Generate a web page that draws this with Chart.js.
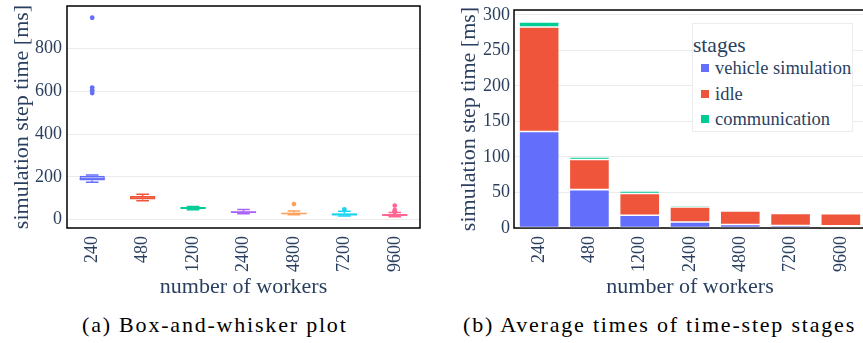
<!DOCTYPE html>
<html><head><meta charset="utf-8">
<script src="https://cdn.jsdelivr.net/npm/chart.js@4.4.0/dist/chart.umd.min.js"></script>
<style>
html,body{margin:0;padding:0;background:#fff;overflow:hidden;width:863px;height:343px;}
#wrap{position:relative;width:863px;height:343px;overflow:hidden;}
#c1{position:absolute;left:0;top:0;}
#c2{position:absolute;left:430px;top:0;}
.cap{position:absolute;top:312px;font-family:"Liberation Serif",serif;font-size:22px;color:#000;white-space:nowrap;letter-spacing:1.8px;line-height:26px;}
#legend{position:absolute;left:692px;top:23px;width:161px;height:109px;border:1px solid #ececec;background:#fff;font-family:"Liberation Serif",serif;color:#2a3f5f;box-sizing:border-box;}
#legend .t{position:absolute;left:0;top:8px;font-size:21.5px;line-height:26px;}
#legend .e{position:absolute;left:22px;font-size:18.5px;line-height:22px;white-space:nowrap;}
#legend .s{position:absolute;left:8px;width:8px;height:8px;}
</style></head>
<body><div id="wrap">
<canvas id="c1" width="430" height="300"></canvas>
<canvas id="c2" width="436" height="300"></canvas>
<div class="cap" id="capA" style="left:82px">(a) Box-and-whisker plot</div>
<div class="cap" id="capB" style="left:463px">(b) Average times of time-step stages</div>
<div id="legend"></div>
</div>
<script>
// ---------- data ----------
const workers = ['240','480','1200','2400','4800','7200','9600'];
const boxColors = ['#636efa','#EF553B','#00cc96','#ab63fa','#FFA15A','#19d3f3','#FF6692'];
const whiskerLow  = [174, 88, 46, 27, 22, 16, 13];
const q1          = [182, 93, 49, 30, 25, 19, 16];
const median      = [190, 100, 54, 34, 28, 23, 20];
const q3          = [205, 110, 58, 38, 32, 29, 26];
const whiskerHigh = [208, 118, 61, 47, 40, 38, 33];
const outliers = [[945, 618, 605, 592], [], [], [], [72], [47], [65, 44, 39, 35]];
const yTicksA = [0, 200, 400, 600, 800];

const stageNames = ['vehicle simulation', 'idle', 'communication'];
const stageColors = ['#636efa', '#EF553B', '#00cc96'];
const vehicleSim    = [136, 54, 18, 8.5, 5, 3.5, 3];
const idle          = [147, 42.5, 30.5, 21, 19, 17, 17];
const communication = [7, 3.5, 3.5, 2.5, 2, 1.5, 1.2];
const yTicksB = [0, 50, 100, 150, 200, 250, 300];

// ---------- styles ----------
const TXT = '#2a3f5f';
const FONT = '"Liberation Serif", "Times New Roman", serif';
const GRID = '#ebebeb';

function alpha(hex, a) {
  const n = parseInt(hex.slice(1), 16);
  return `rgba(${(n>>16)&255},${(n>>8)&255},${n&255},${a})`;
}
function noPad(s) { s.paddingTop = 0; s.paddingBottom = 0; s.paddingLeft = 0; s.paddingRight = 0; }

const framePlugin = {
  id: 'frame',
  beforeDatasetsDraw(chart) {
    const {ctx, chartArea: a} = chart;
    ctx.save();
    ctx.strokeStyle = '#000';
    ctx.lineWidth = 1.5;
    ctx.strokeRect(a.left, a.top, a.right - a.left, a.bottom - a.top);
    ctx.restore();
  }
};

const whiskerPlugin = {
  id: 'whiskers',
  beforeDatasetsDraw(chart) {
    const {ctx} = chart;
    const xs = chart.scales.x, ys = chart.scales.y;
    const meta = chart.getDatasetMeta(0);
    ctx.save();
    ctx.lineWidth = 1.5;
    workers.forEach((w, i) => {
      const x = xs.getPixelForValue(i);
      const bw = meta.data[i] ? meta.data[i].width : 24;
      const cap = bw * 0.5;
      ctx.strokeStyle = boxColors[i];
      ctx.beginPath();
      ctx.moveTo(x, ys.getPixelForValue(whiskerLow[i]));
      ctx.lineTo(x, ys.getPixelForValue(q1[i]));
      ctx.moveTo(x, ys.getPixelForValue(q3[i]));
      ctx.lineTo(x, ys.getPixelForValue(whiskerHigh[i]));
      ctx.moveTo(x - cap/2, ys.getPixelForValue(whiskerLow[i]));
      ctx.lineTo(x + cap/2, ys.getPixelForValue(whiskerLow[i]));
      ctx.moveTo(x - cap/2, ys.getPixelForValue(whiskerHigh[i]));
      ctx.lineTo(x + cap/2, ys.getPixelForValue(whiskerHigh[i]));
      ctx.stroke();
    });
    ctx.restore();
  },
  afterDatasetsDraw(chart) {
    const {ctx} = chart;
    const xs = chart.scales.x, ys = chart.scales.y;
    const meta = chart.getDatasetMeta(0);
    ctx.save();
    ctx.lineWidth = 1.5;
    workers.forEach((w, i) => {
      const x = xs.getPixelForValue(i);
      const bw = meta.data[i] ? meta.data[i].width : 24;
      const y = ys.getPixelForValue(median[i]);
      ctx.strokeStyle = boxColors[i];
      ctx.beginPath();
      ctx.moveTo(x - bw/2, y);
      ctx.lineTo(x + bw/2, y);
      ctx.stroke();
    });
    ctx.restore();
  }
};

const outlierPts = [], outlierCols = [];
outliers.forEach((arr, i) => arr.forEach(v => { outlierPts.push({x: workers[i], y: v}); outlierCols.push(boxColors[i]); }));

function xAxis() {
  return {
    offset: true,
    grid: {display: false, drawTicks: false},
    border: {display: false},
    ticks: {color: TXT, font: {family: FONT, size: 18}, minRotation: 90, maxRotation: 90, padding: 8, autoSkip: false},
    title: {display: true, text: 'number of workers', color: TXT, font: {family: FONT, size: 22}, padding: {top: 0, bottom: 0}},
    afterFit(s) { s.height = 72; noPad(s); }
  };
}

// ---------- chart (a) ----------
new Chart(document.getElementById('c1'), {
  type: 'bar',
  data: {
    labels: workers,
    datasets: [
      {
        data: workers.map((w, i) => [q1[i], q3[i]]),
        backgroundColor: boxColors.map(c => alpha(c, 0.5)),
        borderColor: boxColors,
        borderWidth: 1.5,
        borderSkipped: false,
        barPercentage: 0.5,
        categoryPercentage: 1,
        grouped: false
      },
      {
        type: 'line',
        data: outlierPts,
        showLine: false,
        pointRadius: 2.4,
        pointBorderWidth: 0,
        pointBackgroundColor: outlierCols,
        pointBorderColor: outlierCols
      }
    ]
  },
  options: {
    responsive: false,
    animation: false,
    events: [],
    layout: {padding: {top: 6, right: 10, left: 0, bottom: 0}},
    plugins: {legend: {display: false}, tooltip: {enabled: false}},
    scales: {
      x: xAxis(),
      y: {
        min: -40, max: 1000,
        afterBuildTicks(s) { s.ticks = yTicksA.map(v => ({value: v})); },
        grid: {color: GRID, lineWidth: 1, drawTicks: false},
        border: {display: false},
        ticks: {color: TXT, font: {family: FONT, size: 18}, padding: 5},
        title: {display: true, text: 'simulation step time [ms]', color: TXT, font: {family: FONT, size: 22}, padding: {top: 9, bottom: 0}},
        afterFit(s) { s.width = 67; noPad(s); }
      }
    }
  },
  plugins: [framePlugin, whiskerPlugin]
});

// ---------- chart (b) ----------
const stageData = [vehicleSim, idle, communication];
new Chart(document.getElementById('c2'), {
  type: 'bar',
  data: {
    labels: workers,
    datasets: stageNames.map((n, k) => ({
      label: n,
      data: stageData[k],
      backgroundColor: stageColors[k],
      borderColor: 'rgba(255,255,255,0.55)',
      borderWidth: 0.8,
      borderSkipped: false,
      barPercentage: 0.8,
      categoryPercentage: 1
    }))
  },
  options: {
    responsive: false,
    animation: false,
    events: [],
    layout: {padding: {top: 10, right: 0, left: 0, bottom: 0}},
    plugins: {legend: {display: false}, tooltip: {enabled: false}},
    scales: {
      x: Object.assign(xAxis(), {stacked: true}),
      y: {
        stacked: true,
        min: 0, max: 307,
        afterBuildTicks(s) { s.ticks = yTicksB.map(v => ({value: v})); },
        grid: {color: GRID, lineWidth: 1, drawTicks: false},
        border: {display: false},
        ticks: {color: TXT, font: {family: FONT, size: 18}, padding: 4},
        title: {display: true, text: 'simulation step time [ms]', color: TXT, font: {family: FONT, size: 22}, padding: {top: 26, bottom: 0}},
        afterFit(s) { s.width = 84; noPad(s); }
      }
    }
  },
  plugins: [framePlugin]
});

// ---------- legend (b) ----------
const leg = document.getElementById('legend');
leg.innerHTML = '<div class="t">stages</div>';
const rowY = [44, 70, 95];
stageNames.forEach((n, k) => {
  const s = document.createElement('div');
  s.className = 's';
  s.style.top = (rowY[k] - 4) + 'px';
  s.style.background = stageColors[k];
  leg.appendChild(s);
  const e = document.createElement('div');
  e.className = 'e'; e.style.top = (rowY[k] - 11) + 'px';
  e.textContent = n;
  leg.appendChild(e);
});
</script>
</body></html>
